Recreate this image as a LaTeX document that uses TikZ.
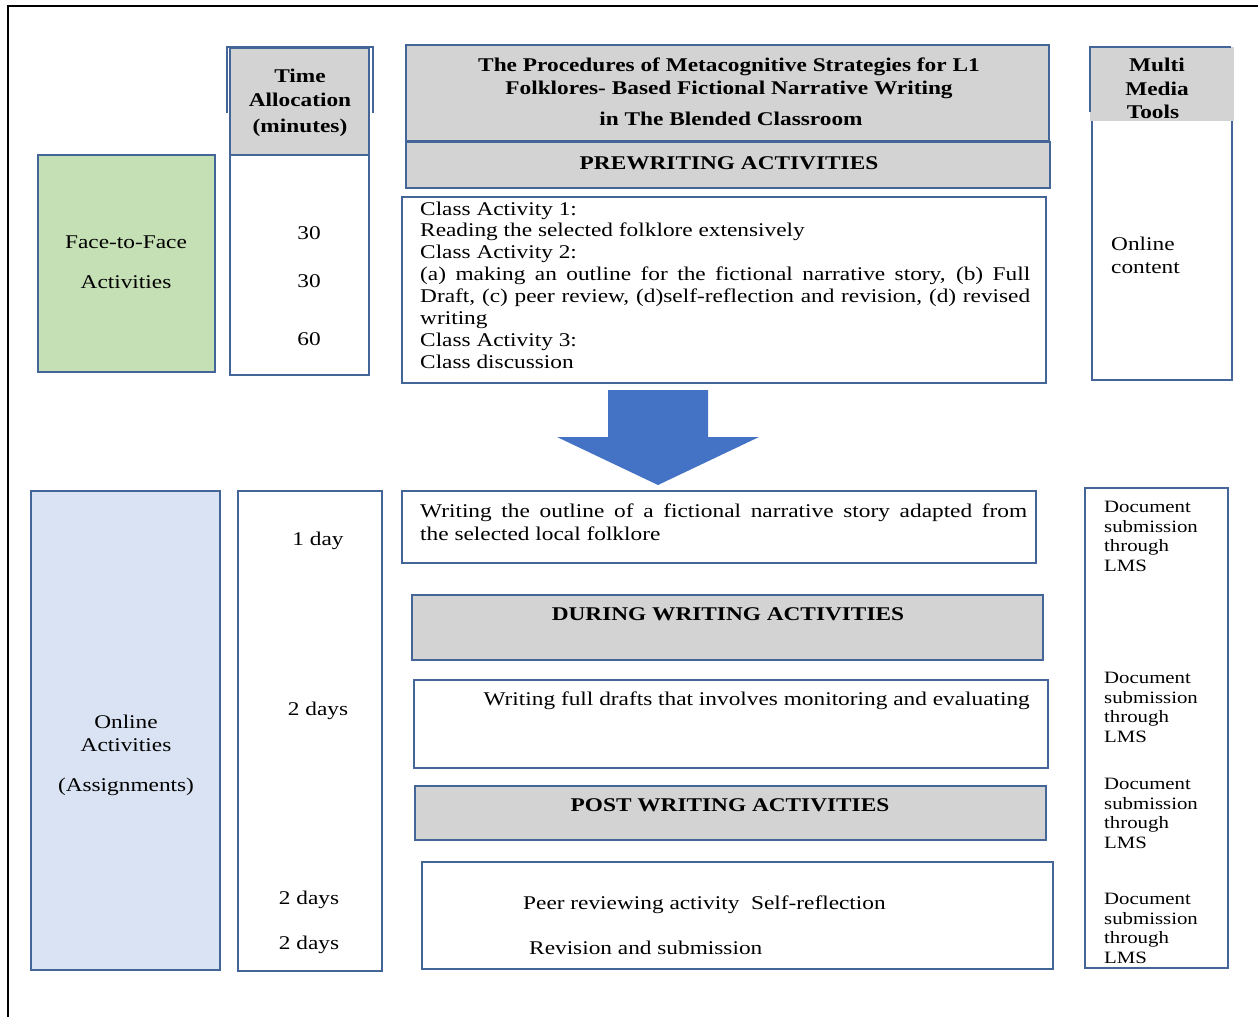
\documentclass[tikz,border=0pt]{standalone}
\usepackage{fontspec}
\setmainfont[FakeStretch=1.2]{Liberation Serif}
\definecolor{bordc}{RGB}{68,101,152}
\definecolor{grayf}{RGB}{211,211,211}
\definecolor{greenf}{RGB}{197,224,180}
\definecolor{bluef}{RGB}{218,227,243}
\definecolor{arrowc}{RGB}{68,114,196}
\newcommand\docgrp[2]{%
  \node[stxt] (#1a) at (1104,#2) {Document};
  \node[stxt] (#1b) at (1104,#2+19.5) {submission};
  \node[stxt] (#1c) at (1104,#2+39) {through};
  \node[stxt] (#1d) at (1104,#2+58.5) {LMS};
}
\begin{document}
\begin{tikzpicture}[x=1bp,y=-1bp,
  box/.style={draw=bordc,line width=1.8bp},
  gbox/.style={box,fill=grayf},
  txt/.style={inner sep=0,font=\fontsize{19.5}{22}\selectfont},
  btxt/.style={inner sep=0,font=\fontsize{19.5}{22}\selectfont\bfseries,anchor=base},
  ltxt/.style={txt,anchor=base west},
  ctxt/.style={txt,anchor=base},
  stxt/.style={inner sep=0,font=\fontsize{17.4}{19.5}\selectfont,anchor=base west},
]
\useasboundingbox (0,0) rectangle (1258,1017);
\fill[white] (0,0) rectangle (1258,1017);
\draw[line width=2bp] (8,1017) -- (8,6) -- (1258,6);

% ---------- upper part ----------
\draw[box,fill=greenf] (38,155) rectangle (215,372);
\node[ctxt] (f2fa) at (126,248) {Face-to-Face};
\node[ctxt] (f2fb) at (126,288) {Activities};

\draw[gbox] (230,48) rectangle (369,155);
\draw[box] (230,155) rectangle (369,375);
\draw[bordc,line width=2.2bp] (227,113) -- (227,47) -- (373,47) -- (373,113);
\node[btxt] (tima) at (300,82) {Time};
\node[btxt] (timb) at (300,106) {Allocation};
\node[btxt] (timc) at (300,132) {(minutes)};
\node[ctxt] (m1) at (309,239.5) {30};
\node[ctxt] (m2) at (309,287.5) {30};
\node[ctxt] (m3) at (309,345.5) {60};

\draw[gbox] (406,45) rectangle (1049,141);
\node[btxt] (tta) at (729,71) {The Procedures of Metacognitive Strategies for L1};
\node[btxt] (ttb) at (729,94) {Folklores- Based Fictional Narrative Writing};
\node[btxt] (ttc) at (731,125) {in The Blended Classroom};
\draw[gbox] (406,142) rectangle (1050,188);
\node[btxt] (pre) at (729,169.5) {PREWRITING ACTIVITIES};

\draw[box] (402,197) rectangle (1046,383);
\node[ltxt] (ca1) at (420,215) {Class Activity 1:};
\node[ltxt] (ca2) at (420,236.9) {Reading the selected folklore extensively};
\node[ltxt] (ca3) at (420,258.8) {Class Activity 2:};
\node[ltxt] (ca4) at (420,280.7) {\makebox[610bp][s]{(a) making an outline for the fictional narrative story, (b) Full}};
\node[ltxt] (ca5) at (420,302.6) {\makebox[610bp][s]{Draft, (c) peer review, (d)self-reflection and revision, (d) revised}};
\node[ltxt] (ca6) at (420,324.5) {writing};
\node[ltxt] (ca7) at (420,346.4) {Class Activity 3:};
\node[ltxt] (ca8) at (420,368.3) {Class discussion};

\fill[grayf] (1090,47) rectangle (1234,121);
\draw[bordc,line width=1.2bp] (1090,112) -- (1090,47) -- (1231,47);
\draw[box] (1092,121) -- (1092,380) -- (1232,380) -- (1232,121);
\node[btxt] (mma) at (1157,71.5) {Multi};
\node[btxt] (mmb) at (1157,95.5) {Media};
\node[btxt] (mmc) at (1153,118.5) {Tools};
\node[ltxt] (oca) at (1111,250) {Online};
\node[ltxt] (ocb) at (1111,273) {content};

% ---------- arrow ----------
\fill[arrowc] (608,390) -- (708,390) -- (708,437) -- (759,437) -- (658,485) -- (557,437) -- (608,437) -- cycle;

% ---------- lower part ----------
\draw[box,fill=bluef] (31,491) rectangle (220,970);
\node[ctxt] (ona) at (126,728) {Online};
\node[ctxt] (onb) at (126,751) {Activities};
\node[ctxt] (onc) at (126,791) {(Assignments)};

\draw[box] (238,491) rectangle (382,971);
\node[ctxt] (d1) at (318,545) {1 day};
\node[ctxt] (d2) at (318,715) {2 days};
\node[ctxt] (d3) at (309,904) {2 days};
\node[ctxt] (d4) at (309,949) {2 days};

\draw[box] (402,491) rectangle (1036,563);
\node[ltxt] (ola) at (420,517) {\makebox[607bp][s]{Writing the outline of a fictional narrative story adapted from}};
\node[ltxt] (olb) at (420,540) {the selected local folklore};

\draw[gbox] (412,595) rectangle (1043,660);
\node[btxt] (dur) at (728,620.5) {DURING WRITING ACTIVITIES};

\draw[box] (414,680) rectangle (1048,768);
\node[txt,anchor=base east] (fd) at (1030,705) {Writing full drafts that involves monitoring and evaluating};

\draw[gbox] (415,786) rectangle (1046,840);
\node[btxt] (post) at (730,811.5) {POST WRITING ACTIVITIES};

\draw[box] (422,862) rectangle (1053,969);
\node[ltxt] (pra) at (523,909) {Peer reviewing activity\ \ Self-reflection};
\node[ltxt] (prb) at (529,954) {Revision and submission};

\draw[box] (1085,488) rectangle (1228,968);
\docgrp{ga}{512.5}
\docgrp{gb}{683.5}
\docgrp{gc}{789.5}
\docgrp{gd}{904.5}
\end{tikzpicture}
\end{document}
